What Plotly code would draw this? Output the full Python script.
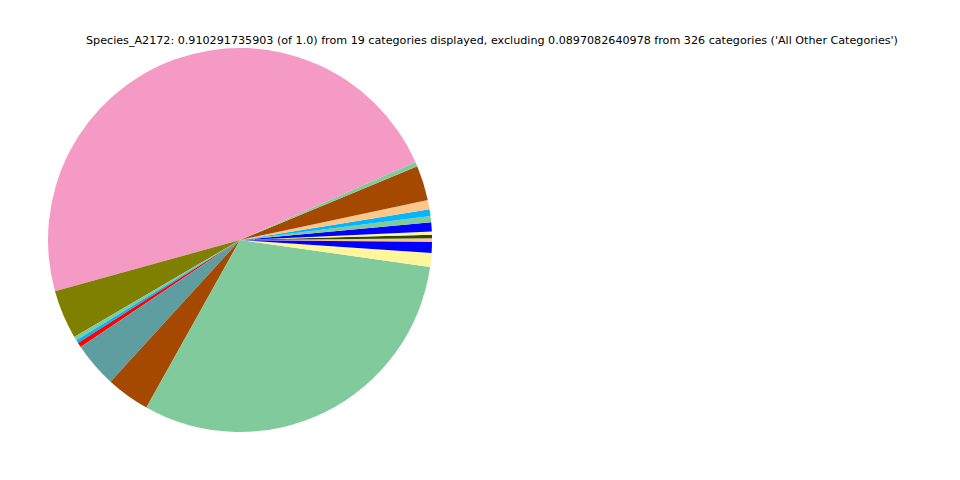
import plotly.graph_objects as go

# Slice values (fractions of 1.0), listed counter-clockwise starting just below 3 o'clock
categories = [f"Category_{i:02d}" for i in range(1, 20)]
values = [0.00278, 0.00265, 0.00253, 0.00698, 0.00480, 0.00506, 0.00708, 0.02680,
          0.00354, 0.43365, 0.03742, 0.00303, 0.00240, 0.00367, 0.03464, 0.03338,
          0.28093, 0.01062, 0.00834]
colors = ["#FFC68C", "#2E4A00", "#FFF59A", "#0000FF", "#80CA9C", "#00B7FF", "#FFC68C",
          "#A54800", "#80CA9C", "#F49AC4", "#808000", "#80CA9C", "#00B7FF", "#FF0000",
          "#5F9EA0", "#A54800", "#80CA9C", "#FFF59A", "#0000FF"]

title_text = ("Species_A2172: 0.910291735903 (of 1.0) from 19 categories displayed, "
              "excluding 0.0897082640978 from 326 categories ('All Other Categories')")

W, H = 960, 480
off = 8  # page body margin offset
cx, cy, r = 240 - off, 240 - off, 192

fig = go.Figure(go.Pie(
    labels=categories,
    values=values,
    marker=dict(colors=colors, line=dict(width=0)),
    sort=False,
    direction="counterclockwise",
    rotation=89.5,
    textinfo="none",
    hoverinfo="label+value",
    domain=dict(x=[(cx - r) / W, (cx + r) / W], y=[1 - (cy + r) / H, 1 - (cy - r) / H]),
))

fig.update_layout(
    width=W, height=H,
    margin=dict(l=0, r=0, t=0, b=0),
    paper_bgcolor="white",
    plot_bgcolor="white",
    showlegend=False,
    title=dict(text=title_text, x=(492 - off) / W, xanchor="center", y=1 - (40 - off) / H,
               yanchor="middle",
               font=dict(family="DejaVu Sans", size=11.15, color="black")),
)

fig.write_html("out.html")
